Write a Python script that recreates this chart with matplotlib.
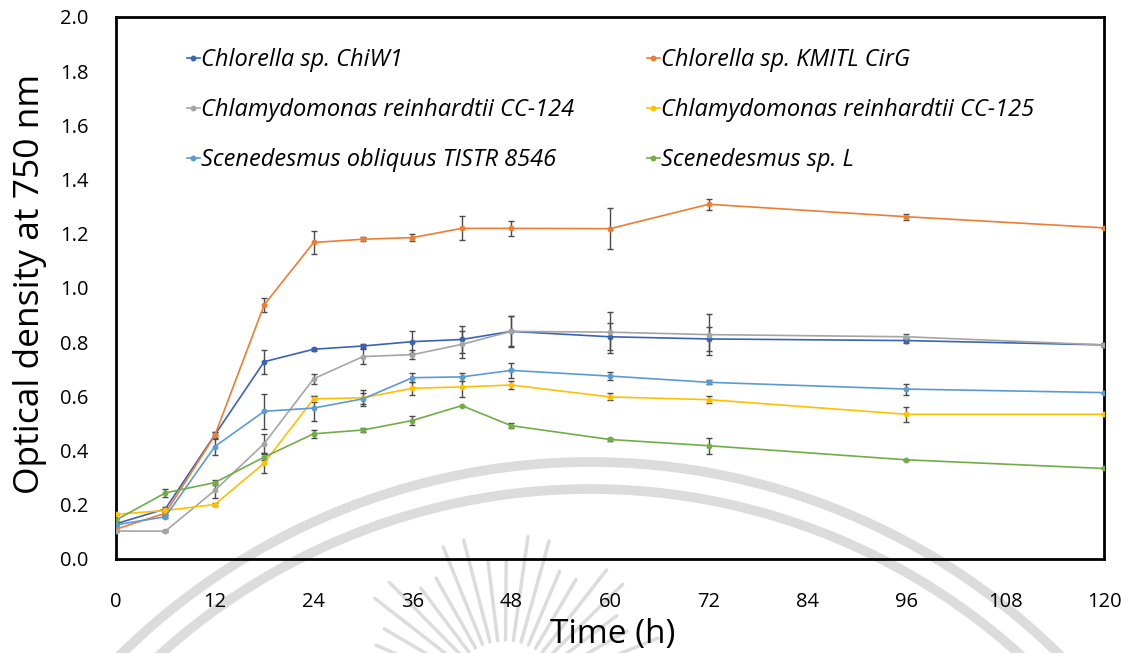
import numpy as np
import matplotlib
matplotlib.use("Agg")
import matplotlib.pyplot as plt
from matplotlib.patches import Arc
from matplotlib.lines import Line2D

# Sampling times (h)
time_h = [0, 6, 12, 18, 24, 30, 36, 42, 48, 60, 72, 96, 120]

# Optical density at 750 nm (mean) and standard deviation for each strain
chiw1 = [0.130, 0.185, 0.458, 0.728, 0.774, 0.786, 0.802, 0.810, 0.840, 0.820, 0.812, 0.806, 0.790]
chiw1_sd = [0.004, 0.008, 0.012, 0.045, 0.006, 0.008, 0.041, 0.050, 0.058, 0.050, 0.043, 0.010, 0.0]

cirg = [0.110, 0.169, 0.456, 0.938, 1.168, 1.180, 1.186, 1.220, 1.220, 1.219, 1.309, 1.263, 1.222]
cirg_sd = [0.004, 0.008, 0.014, 0.025, 0.043, 0.008, 0.012, 0.044, 0.028, 0.075, 0.021, 0.011, 0.0]

cc124 = [0.103, 0.103, 0.253, 0.426, 0.665, 0.747, 0.754, 0.792, 0.840, 0.837, 0.828, 0.820, 0.790]
cc124_sd = [0.003, 0.003, 0.028, 0.034, 0.018, 0.028, 0.016, 0.050, 0.055, 0.076, 0.075, 0.010, 0.008]

cc125 = [0.165, 0.179, 0.201, 0.354, 0.591, 0.595, 0.630, 0.635, 0.642, 0.598, 0.588, 0.534, 0.534]
cc125_sd = [0.004, 0.005, 0.006, 0.037, 0.012, 0.030, 0.024, 0.038, 0.014, 0.013, 0.013, 0.027, 0.0]

tistr = [0.126, 0.156, 0.415, 0.545, 0.557, 0.591, 0.669, 0.672, 0.696, 0.675, 0.652, 0.627, 0.614]
tistr_sd = [0.004, 0.006, 0.030, 0.064, 0.046, 0.020, 0.017, 0.015, 0.027, 0.014, 0.008, 0.020, 0.0]

scen_l = [0.144, 0.244, 0.282, 0.376, 0.462, 0.476, 0.511, 0.566, 0.492, 0.441, 0.418, 0.366, 0.334]
scen_l_sd = [0.004, 0.016, 0.010, 0.010, 0.014, 0.006, 0.017, 0.0, 0.010, 0.006, 0.030, 0.0, 0.0]

labels = [
    "Chlorella sp. ChiW1",
    "Chlorella sp. KMITL CirG",
    "Chlamydomonas reinhardtii CC-124",
    "Chlamydomonas reinhardtii CC-125",
    "Scenedesmus obliquus TISTR 8546",
    "Scenedesmus sp. L",
]
colors = ["#3A62B5", "#ED7D31", "#A5A5A5", "#FFC000", "#5B9BD5", "#70AD47"]
series = [chiw1, cirg, cc124, cc125, tistr, scen_l]
errors = [chiw1_sd, cirg_sd, cc124_sd, cc125_sd, tistr_sd, scen_l_sd]

x_ticks = [0, 12, 24, 36, 48, 60, 72, 84, 96, 108, 120]
y_ticks = [0.0, 0.2, 0.4, 0.6, 0.8, 1.0, 1.2, 1.4, 1.6, 1.8, 2.0]

W, H = 1135, 653
fig = plt.figure(figsize=(W / 100, H / 100), dpi=100)
fig.patch.set_facecolor("white")

# faint seal drawn in pixel space behind the plot
bg = fig.add_axes([0, 0, 1, 1], zorder=0)
bg.set_xlim(0, W)
bg.set_ylim(H, 0)
bg.axis("off")
seal_c = "#dcdcdc"
cx, cy = 590, 1130
for r in (668, 641):
    bg.add_patch(Arc((cx, cy), 2 * r, 2 * r, theta1=180, theta2=360,
                     color=seal_c, lw=7))
sx, sy = 505, 700
for ang in np.arange(22, 160, 7.5):
    a = np.deg2rad(ang)
    r0, r1 = 60, 165 if int(ang) % 2 == 0 else 140
    bg.plot([sx + r0 * np.cos(a), sx + r1 * np.cos(a)],
            [sy - r0 * np.sin(a), sy - r1 * np.sin(a)],
            color=seal_c, lw=2.5, solid_capstyle="round")

ax = fig.add_axes([116 / W, 1 - 559 / H, (1104 - 116) / W, (559 - 17) / H], zorder=1)
ax.set_facecolor("none")

for y, e, c in zip(series, errors, colors):
    ax.errorbar(time_h, y, yerr=e, fmt="none", ecolor="#4a4a4a",
                elinewidth=1.0, capsize=2.2, capthick=1.0, zorder=2)
for y, c in zip(series, colors):
    ax.plot(time_h, y, color=c, lw=1.2, marker="o", ms=3.2, mfc=c, mec=c, zorder=3)

ax.set_xlim(0, 120)
ax.set_ylim(0, 2.0)
ax.set_xticks(x_ticks)
ax.set_yticks(y_ticks)
ax.set_yticklabels([f"{v:.1f}" for v in y_ticks])
ax.tick_params(axis="both", length=0, labelsize=14.5, colors="black")
ax.tick_params(axis="x", pad=24)
ax.tick_params(axis="y", pad=20)
for lab in ax.get_xticklabels() + ax.get_yticklabels():
    lab.set_fontfamily("Open Sans")
for s in ax.spines.values():
    s.set_linewidth(2.0)
    s.set_color("black")

fig.text(613 / W, 1 - 634 / H, "Time (h)", ha="center", va="center",
         fontsize=24, family="Open Sans")
fig.text(30 / W, 1 - 284 / H, "Optical density at 750 nm", ha="center", va="center",
         rotation=90, fontsize=25.5, family="Open Sans")

# two-column legend, each column placed on its own
def make_handles(idx):
    return [Line2D([], [], color=colors[i], lw=1.2, marker="o", ms=3.2) for i in idx]

leg_kw = dict(frameon=False, handlelength=0.55, handletextpad=0.05,
              labelspacing=1.1, borderpad=0, borderaxespad=0,
              prop={"family": "Open Sans", "style": "italic", "size": 17})
left_idx = [0, 2, 4]
right_idx = [1, 3, 5]
leg1 = ax.legend(make_handles(left_idx), [labels[i] for i in left_idx],
                 loc="upper left", bbox_to_anchor=(187 / W, 1 - 48 / H),
                 bbox_transform=fig.transFigure, **leg_kw)
ax.add_artist(leg1)
ax.legend(make_handles(right_idx), [labels[i] for i in right_idx],
          loc="upper left", bbox_to_anchor=(647 / W, 1 - 48 / H),
          bbox_transform=fig.transFigure, **leg_kw)

fig.savefig("out.png", dpi=100)
